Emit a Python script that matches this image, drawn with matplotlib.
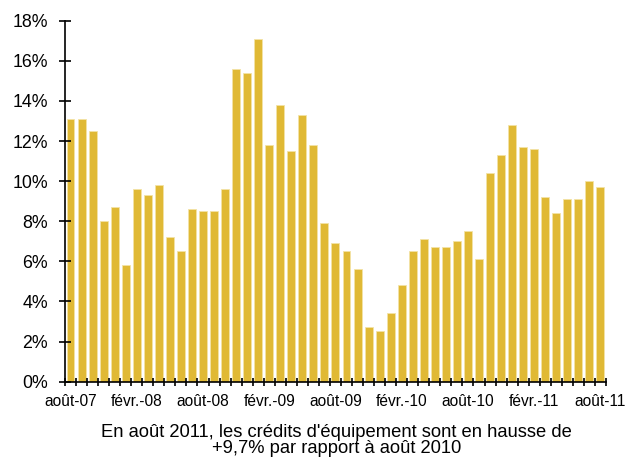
import matplotlib
matplotlib.use("Agg")
import matplotlib.pyplot as plt
import numpy as np

plt.rcParams['font.family'] = ['Liberation Sans', 'DejaVu Sans']

# évolution annuelle des crédits d'équipement, août 2007 -> août 2011
mois = ['août-07', 'sept.-07', 'oct.-07', 'nov.-07', 'déc.-07',
        'janv.-08', 'févr.-08', 'mars-08', 'avr.-08', 'mai-08', 'juin-08', 'juil.-08',
        'août-08', 'sept.-08', 'oct.-08', 'nov.-08', 'déc.-08',
        'janv.-09', 'févr.-09', 'mars-09', 'avr.-09', 'mai-09', 'juin-09', 'juil.-09',
        'août-09', 'sept.-09', 'oct.-09', 'nov.-09', 'déc.-09',
        'janv.-10', 'févr.-10', 'mars-10', 'avr.-10', 'mai-10', 'juin-10', 'juil.-10',
        'août-10', 'sept.-10', 'oct.-10', 'nov.-10', 'déc.-10',
        'janv.-11', 'févr.-11', 'mars-11', 'avr.-11', 'mai-11', 'juin-11', 'juil.-11',
        'août-11']
croissance = [13.1, 13.1, 12.5, 8.0, 8.7, 5.8, 9.6, 9.3, 9.8, 7.2, 6.5, 8.6,
              8.5, 8.5, 9.6, 15.6, 15.4, 17.1, 11.8, 13.8, 11.5, 13.3, 11.8, 7.9,
              6.9, 6.5, 5.6, 2.7, 2.5, 3.4, 4.8, 6.5, 7.1, 6.7, 6.7, 7.0,
              7.5, 6.1, 10.4, 11.3, 12.8, 11.7, 11.6, 9.2, 8.4, 9.1, 9.1, 10.0,
              9.7]
legende_1 = "En août 2011, les crédits d'équipement sont en hausse de"
legende_2 = "+9,7% par rapport à août 2010"

fig = plt.figure(figsize=(6.26, 4.62), dpi=100)
ax = fig.add_axes([0.1038, 0.174, 0.8642, 0.781])

x = np.arange(len(mois))
ax.bar(x, croissance, width=0.72, color='#E0B935', edgecolor='#F3E3A6', linewidth=0.6)

ax.set_xlim(-0.5, len(mois) - 0.5)
ax.set_ylim(0, 18)
ax.set_yticks(np.arange(0, 19, 2))
ax.set_yticklabels([f"{v}%" for v in range(0, 19, 2)], fontsize=12.8)

# graduations entre les mois, étiquettes tous les 6 mois
ax.set_xticks(np.arange(-0.5, len(mois), 1))
ax.set_xticklabels([])
ax.set_xticks(x[::6], minor=True)
ax.set_xticklabels(mois[::6], minor=True, fontsize=11.2)
ax.tick_params(axis='x', which='minor', length=0, pad=9)
ax.tick_params(axis='x', which='major', direction='inout', length=6, width=1.2)
ax.tick_params(axis='y', direction='inout', length=8.5, width=1.2, pad=8)

for s in ['top', 'right']:
    ax.spines[s].set_visible(False)
ax.spines['left'].set_linewidth(1.2)
ax.spines['bottom'].set_linewidth(1.2)

fig.text(0.537, 0.054, legende_1, ha='center', va='baseline', fontsize=13.2)
fig.text(0.537, 0.019, legende_2, ha='center', va='baseline', fontsize=13.2)

fig.savefig('out.png', dpi=100)
